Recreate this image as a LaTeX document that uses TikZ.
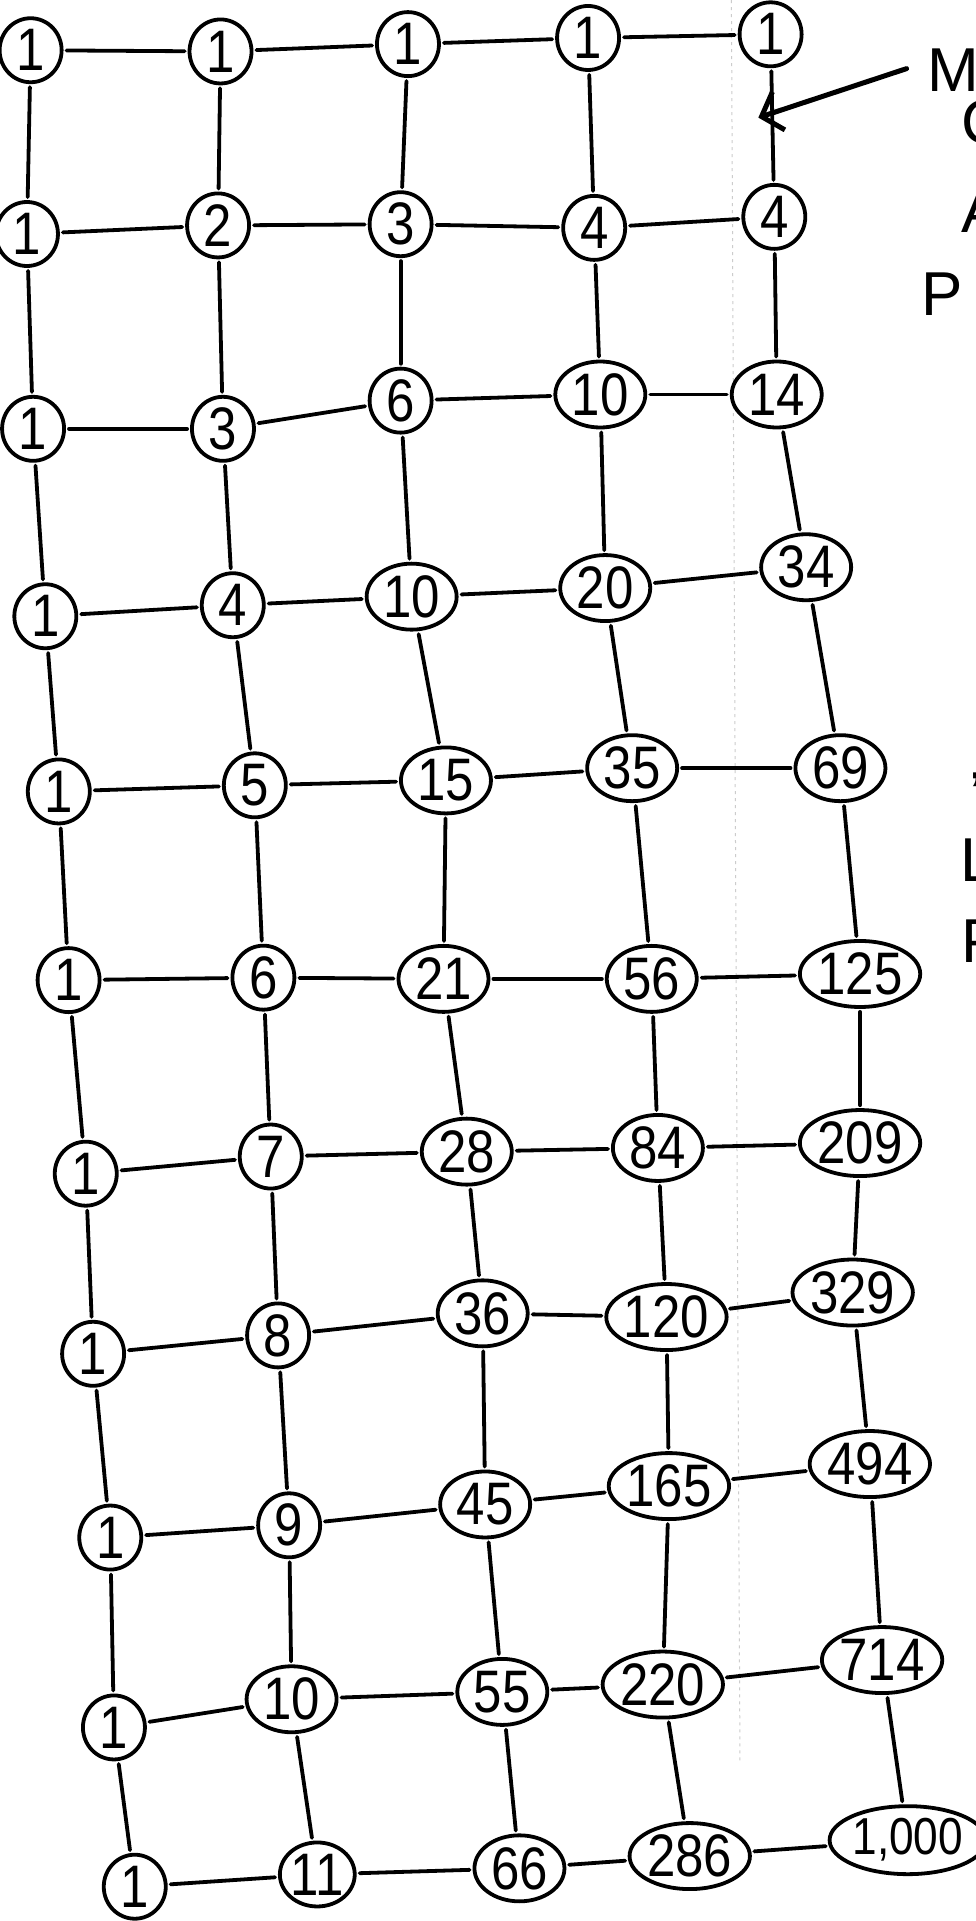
\documentclass[tikz,border=0pt]{standalone}
\usepackage{fontspec}
\setmainfont{Liberation Sans}
\newfontfamily\handfont[FakeStretch=0.85]{Liberation Sans}
\usetikzlibrary{shapes.geometric,arrows.meta}
\begin{document}
\begin{tikzpicture}[x=1.2249pt,y=-1.2249pt,
  num/.style={draw,ellipse,line width=3.8pt,inner sep=0pt,font=\handfont\fontsize{60}{60}\selectfont},
  d1/.style={num,minimum width=62pt,minimum height=64pt},
  d2/.style={num,minimum width=90pt,minimum height=66pt},
  d3/.style={num,minimum width=112pt,minimum height=66pt},
  d4/.style={num,minimum width=138pt,minimum height=68pt,font=\handfont\fontsize{52}{52}\selectfont},
  link/.style={line width=3.8pt,shorten <=3pt,shorten >=3pt,line cap=round},
  note/.style={font=\fontsize{62}{62}\selectfont,anchor=west,inner sep=0pt},
  fold/.style={gray!40,line width=1pt,dash pattern=on 3pt off 4pt}]
\useasboundingbox[fill=white] (0,0) rectangle (796,1568);
\draw[fold] (597,0) -- (604,1440);
% row 0
\node[d1] (n0-0) at (25,41) {1};
\node[d1] (n0-1) at (180,42) {1};
\node[d1] (n0-2) at (333,36) {1};
\node[d1] (n0-3) at (480,31) {1};
\node[d1] (n0-4) at (629,28) {1};
% row 1
\node[d1] (n1-0) at (22,191) {1};
\node[d1] (n1-1) at (178,184) {2};
\node[d1] (n1-2) at (327,183) {3};
\node[d1] (n1-3) at (485,186) {4};
\node[d1] (n1-4) at (632,177) {4};
% row 2
\node[d1] (n2-0) at (27,350) {1};
\node[d1] (n2-1) at (182,350) {3};
\node[d1] (n2-2) at (327,327) {6};
\node[d2] (n2-3) at (490,322) {10};
\node[d2] (n2-4) at (634,322) {14};
% row 3
\node[d1] (n3-0) at (37,503) {1};
\node[d1] (n3-1) at (190,494) {4};
\node[d2] (n3-2) at (336,487) {10};
\node[d2] (n3-3) at (494,480) {20};
\node[d2] (n3-4) at (658,463) {34};
% row 4
\node[d1] (n4-0) at (48,646) {1};
\node[d1] (n4-1) at (208,641) {5};
\node[d2] (n4-2) at (364,637) {15};
\node[d2] (n4-3) at (516,627) {35};
\node[d2] (n4-4) at (686,627) {69};
% row 5
\node[d1] (n5-0) at (56,800) {1};
\node[d1] (n5-1) at (215,798) {6};
\node[d2] (n5-2) at (362,799) {21};
\node[d2] (n5-3) at (532,799) {56};
\node[d3] (n5-4) at (702,795) {125};
% row 6
\node[d1] (n6-0) at (70,958) {1};
\node[d1] (n6-1) at (221,944) {7};
\node[d2] (n6-2) at (381,940) {28};
\node[d2] (n6-3) at (537,937) {84};
\node[d3] (n6-4) at (702,933) {209};
% row 7
\node[d1] (n7-0) at (76,1105) {1};
\node[d1] (n7-1) at (227,1090) {8};
\node[d2] (n7-2) at (394,1072) {36};
\node[d3] (n7-3) at (544,1075) {120};
\node[d3] (n7-4) at (696,1055) {329};
% row 8
\node[d1] (n8-0) at (90,1255) {1};
\node[d1] (n8-1) at (236,1245) {9};
\node[d2] (n8-2) at (396,1228) {45};
\node[d3] (n8-3) at (546,1213) {165};
\node[d3] (n8-4) at (710,1195) {494};
% row 9
\node[d1] (n9-0) at (93,1410) {1};
\node[d2] (n9-1) at (238,1387) {10};
\node[d2] (n9-2) at (410,1381) {55};
\node[d3] (n9-3) at (541,1375) {220};
\node[d3] (n9-4) at (720,1355) {714};
% row 10
\node[d1] (n10-0) at (110,1540) {1};
\node[d1] (n10-1) at (259,1530) {11};
\node[d2] (n10-2) at (424,1525) {66};
\node[d3] (n10-3) at (563,1515) {286};
\node[d4] (n10-4) at (741,1502) {1,000};
% connectors
\foreach \rr in {0,1,2,3,4,5,6,7,8,9,10}{
  \foreach \ca/\cb in {0/1,1/2,2/3,3/4}{
    \draw[link] (n\rr-\ca) -- (n\rr-\cb);
  }
}
\foreach \ra/\rb in {0/1,1/2,2/3,3/4,4/5,5/6,6/7,7/8,8/9,9/10}{
  \foreach \cc in {0,1,2,3,4}{
    \draw[link] (n\ra-\cc) -- (n\rb-\cc);
  }
}
% arrow and cut-off notes
\coordinate (atail) at (740,56);
\coordinate (ahead) at (619,96);
\draw[line width=5pt,line cap=round,-{Straight Barb[length=18pt,width=40pt]}] (atail) -- (ahead);
\node[note] (t1) at (757,57) {M};
\node[note] (t2) at (785,100) {C};
\node[note] (t3) at (785,172) {A};
\node[note] (t4) at (752,240) {P};
\node[note] (t5) at (791,648) {'};
\node[note] (t6) at (784,702) {L};
\node[note] (t7) at (785,768) {P};
\end{tikzpicture}
\end{document}
